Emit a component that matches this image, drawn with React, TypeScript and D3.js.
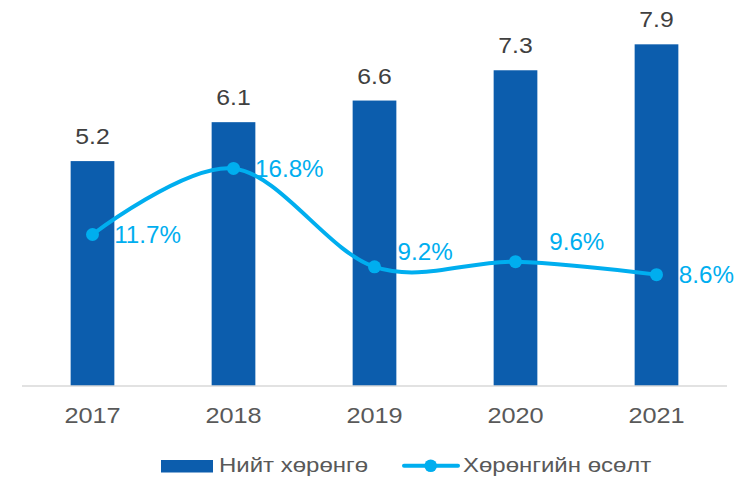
import React from "react";
import * as d3 from "d3";

const years = ["2017", "2018", "2019", "2020", "2021"];
const totalAssets = [5.2, 6.1, 6.6, 7.3, 7.9];
const assetGrowth = [0.117, 0.168, 0.092, 0.096, 0.086];
const growthLabels = ["11.7%", "16.8%", "9.2%", "9.6%", "8.6%"];
const seriesNames = ["Нийт хөрөнгө", "Хөрөнгийн өсөлт"];

const W = 756;
const H = 479;
const BAR_COLOR = "#0C5DAD";
const LINE_COLOR = "#00AEEF";
const FONT = "'Liberation Sans', Arial, sans-serif";

// label offsets relative to point (dx, dy to baseline)
const labelOffsets: [number, number][] = [
  [21.7, 8.7],
  [21.5, 8.7],
  [23, -6.7],
  [33.7, -12],
  [22.3, 8.3],
];

function SText(props: {
  x: number;
  y: number;
  sx: number;
  size: number;
  fill: string;
  anchor?: string;
  children: React.ReactNode;
}) {
  return (
    <text
      transform={`translate(${props.x},${props.y}) scale(${props.sx},1)`}
      textAnchor={props.anchor || "start"}
      fontFamily={FONT}
      fontSize={props.size}
      fill={props.fill}
    >
      {props.children}
    </text>
  );
}

export default function App() {
  const x = d3.scaleBand<string>().domain(years).range([22, 727]).paddingInner(0.69).paddingOuter(0.345);
  const yBar = d3.scaleLinear().domain([0, 9]).range([386, 386 - 9 * 43.25]);
  const yLine = d3.scaleLinear().domain([0, 0.3]).range([386, 386 - 30 * 12.95]);
  const cx = (d: string) => (x(d) as number) + x.bandwidth() / 2;

  const pts: [number, number][] = years.map((yr, i) => [cx(yr), yLine(assetGrowth[i])]);
  const line = d3.line().curve(d3.curveCardinal.tension(0))(pts) || "";

  return (
    <svg width={W} height={H} style={{ position: "absolute", left: 0, top: 0, background: "#fff" }}>
      {years.map((yr, i) => (
        <rect
          key={yr}
          x={x(yr)}
          y={yBar(totalAssets[i])}
          width={x.bandwidth()}
          height={yBar(0) - yBar(totalAssets[i])}
          fill={BAR_COLOR}
        />
      ))}
      <line x1={22} x2={727} y1={386} y2={386} stroke="#D9D9D9" strokeWidth={1.3} />
      {years.map((yr, i) => (
        <SText key={"v" + yr} x={cx(yr)} y={yBar(totalAssets[i]) - 17} sx={1.1} size={22.5} fill="#404040" anchor="middle">
          {totalAssets[i].toFixed(1)}
        </SText>
      ))}
      <path d={line} fill="none" stroke={LINE_COLOR} strokeWidth={4} strokeLinecap="round" />
      {pts.map((p, i) => (
        <circle key={"c" + i} cx={p[0]} cy={p[1]} r={6.5} fill={LINE_COLOR} />
      ))}
      {pts.map((p, i) => (
        <SText key={"g" + i} x={p[0] + labelOffsets[i][0]} y={p[1] + labelOffsets[i][1]} sx={1.03} size={23.5} fill={LINE_COLOR}>
          {growthLabels[i]}
        </SText>
      ))}
      {years.map((yr) => (
        <SText key={"t" + yr} x={cx(yr)} y={423.3} sx={1.15} size={22} fill="#595959" anchor="middle">
          {yr}
        </SText>
      ))}
      <g>
        <rect x={161} y={460} width={52} height={12.5} fill={BAR_COLOR} />
        <SText x={219} y={472.3} sx={1.17} size={20.5} fill="#595959">
          {seriesNames[0]}
        </SText>
        <line x1={404} x2={458} y1={465.7} y2={465.7} stroke={LINE_COLOR} strokeWidth={4} strokeLinecap="round" />
        <circle cx={430.7} cy={465.7} r={6.3} fill={LINE_COLOR} />
        <SText x={463} y={472.3} sx={1.17} size={20.5} fill="#595959">
          {seriesNames[1]}
        </SText>
      </g>
    </svg>
  );
}
